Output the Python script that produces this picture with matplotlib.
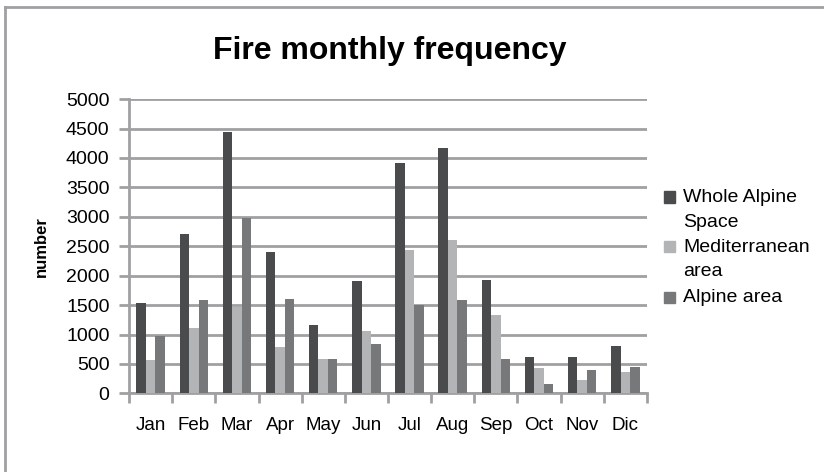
import numpy as np
import matplotlib
matplotlib.use("Agg")
import matplotlib.pyplot as plt
from matplotlib.patches import Rectangle
from matplotlib.lines import Line2D

months = ["Jan", "Feb", "Mar", "Apr", "May", "Jun", "Jul", "Aug", "Sep", "Oct", "Nov", "Dic"]
whole_alpine = [1530, 2710, 4440, 2400, 1165, 1910, 3910, 4165, 1935, 615, 615, 810]
mediterranean = [560, 1110, 1470, 790, 585, 1060, 2430, 2600, 1330, 425, 220, 370]
alpine = [980, 1580, 2980, 1610, 585, 840, 1500, 1580, 585, 165, 400, 445]

series = [
    ("Whole Alpine\nSpace", whole_alpine, "#4a4b4d"),
    ("Mediterranean\narea", mediterranean, "#b3b4b6"),
    ("Alpine area", alpine, "#77787a"),
]

plt.rcParams["font.family"] = ["Liberation Sans", "DejaVu Sans"]

W, H = 824, 472
fig = plt.figure(figsize=(W / 100, H / 100), dpi=100)
ax = fig.add_axes([0.1566, 0.1665, 0.6285, 0.6235])

x = np.arange(len(months))
w = 0.22
for i, (name, vals, col) in enumerate(series):
    ax.bar(x + (i - 1) * w, vals, width=w, color=col, label=name, zorder=3)

grid_col = "#a0a0a2"
ax.set_ylim(0, 5000)
ax.set_xlim(-0.5, len(months) - 0.5)
ax.set_yticks(np.arange(0, 5001, 500))
ax.yaxis.grid(True, color=grid_col, linewidth=2, zorder=0)
ax.set_xticks(x)
ax.set_xticklabels(months, fontsize=13.5)
ax.set_xticks(np.arange(-0.5, len(months), 1), minor=True)
ax.tick_params(axis="x", which="major", length=0, pad=17)
ax.tick_params(axis="x", which="minor", length=7, width=2, color=grid_col)
ax.tick_params(axis="y", length=7, width=2, color=grid_col, labelsize=14, pad=7)
for s in ["top", "right"]:
    ax.spines[s].set_visible(False)
for s in ["left", "bottom"]:
    ax.spines[s].set_color(grid_col)
    ax.spines[s].set_linewidth(2)

ax.set_ylabel("number", fontsize=12, fontweight="bold", labelpad=12)

fig.text(0.473, 0.893, "Fire monthly frequency", fontsize=23, fontweight="bold",
         ha="center", va="center")

# legend drawn by hand so the square sits beside the first line of each label
row = 0
for name, vals, col in series:
    y0 = 197 + 25 * row
    fig.patches.append(Rectangle((664 / W, 1 - (y0 + 5.5) / H), 11 / W, 11 / H,
                                 transform=fig.transFigure, color=col))
    for line in name.split("\n"):
        fig.text(683 / W, 1 - (197 + 25 * row) / H, line, fontsize=14,
                 ha="left", va="center")
        row += 1

# chart frame: only top and left edges are visible (cropped screenshot)
fig.lines.append(Line2D([5 / W, 1], [1 - 7 / H, 1 - 7 / H], transform=fig.transFigure,
                        color=grid_col, linewidth=2))
fig.lines.append(Line2D([5 / W, 5 / W], [0, 1 - 7 / H], transform=fig.transFigure,
                        color=grid_col, linewidth=2))

fig.savefig("out.png", dpi=100)
